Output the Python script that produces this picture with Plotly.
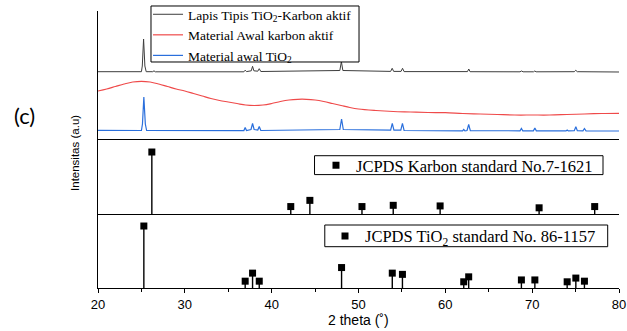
import plotly.graph_objects as go

# ---------------- data ----------------
# Top panel: measured XRD patterns (relative intensity, a.u.)
thin_film_x = [20.0, 25.0, 25.1, 25.25, 25.4, 25.55, 26.3, 26.45, 26.6,
               36.8, 36.95, 37.1, 37.65, 37.8, 37.95, 38.4, 38.57, 38.75,
               47.85, 48.03, 48.2, 53.7, 53.88, 54.05, 54.9, 55.07, 55.25,
               62.55, 62.7, 62.85, 68.6, 68.78, 68.95, 70.15, 70.3, 70.45,
               74.85, 75.02, 75.2, 75.85, 76.02, 76.2, 80.0]
thin_film_y = [0.3, 0.3, 6, 33, 6, 0.3, 0.3, 1.2, 0.2,
               0.2, 1.8, 0.4, 1.2, 5.7, 1.2, 0.8, 3.3, 0.5,
               1.5, 10.3, 1.5, 0.6, 3.7, 0.6, 0.6, 3.7, 0.4,
               0.4, 3.0, 0.3, 0.2, 1.0, 0.2, 0.2, 1.0, 0.2,
               0.3, 1.7, 0.3, 0.2, 0.8, 0.2, 0.0]

carbon_raw_x = [20, 21, 22, 23, 24, 25, 26, 27, 28, 29, 30, 31, 32, 33, 34,
                35, 36, 37, 38, 39, 40, 41, 42, 43, 44, 45, 46, 47, 48, 49,
                50, 52, 54, 56, 58, 60, 62, 64, 66, 68, 70, 72, 74, 76, 78, 80]
carbon_raw_y = [49, 51, 53.5, 56, 58, 58.7, 58, 56, 53.5, 51, 49, 46.5, 44,
                41.5, 39.5, 38, 36.5, 35, 34.5, 35, 36.5, 38.5, 40, 40.7, 40.7,
                40, 38.5, 36.5, 34.5, 32.5, 31, 29.5, 28.5, 28, 27.5, 27.3,
                26.5, 26, 25.5, 25, 25, 25, 25.5, 26, 26.5, 26.7]

tio2_raw_x = [20.0, 25.0, 25.12, 25.28, 25.45, 25.6, 36.8, 36.95, 37.1,
              37.62, 37.8, 37.98, 38.4, 38.57, 38.75, 47.85, 48.05, 48.25,
              53.7, 53.89, 54.08, 54.87, 55.06, 55.25, 61.98, 62.12, 62.26,
              62.5, 62.69, 62.88, 68.6, 68.76, 68.92, 70.14, 70.31, 70.48,
              73.9, 74.03, 74.16, 74.85, 75.03, 75.2, 75.85, 76.02, 76.2, 80.0]
tio2_raw_y = [0.6, 0.5, 7, 34, 7, 0.5, 0.4, 3.5, 0.5,
              1.5, 7.5, 1.5, 1.0, 4.5, 0.5, 1.5, 12, 1.5,
              0.8, 7.7, 0.8, 0.8, 7.7, 0.5, 0.2, 1.5, 0.2,
              0.5, 6.5, 0.4, 0.2, 2.5, 0.2, 0.2, 3.0, 0.2,
              0.1, 1.0, 0.1, 0.3, 4.3, 0.3, 0.2, 2.5, 0.2, 0.0]

# Middle panel: JCPDS carbon standard No. 7-1621
carbon_std_pos = [26.2, 42.2, 44.4, 50.4, 54.0, 59.4, 70.8, 77.2]
carbon_std_int = [100, 12, 22, 12, 14, 13, 10, 12]

# Bottom panel: JCPDS TiO2 standard No. 86-1157
tio2_std_pos = [25.28, 36.95, 37.80, 38.57, 48.05, 53.89, 55.06, 62.12,
                62.69, 68.76, 70.31, 74.03, 75.03, 76.02]
tio2_std_int = [100, 11, 24, 11, 33, 24, 22, 10, 18, 13, 13, 10, 16, 11]

x_range = [20, 80]
x_tick_step = 10

# vertical offsets used to stack the patterns in the top panel
thin_film_offset = 68
carbon_raw_offset = 0
tio2_raw_offset = 9

INK = "black"
SERIF = "Liberation Serif"
SANS = "Liberation Sans"


def stems(pos, inten):
    xs, ys = [], []
    for p, h in zip(pos, inten):
        xs += [p, p, None]
        ys += [0, h, None]
    return xs, ys


fig = go.Figure()

# ---- top panel ----
fig.add_trace(go.Scatter(
    x=thin_film_x, y=[v + thin_film_offset for v in thin_film_y],
    xaxis="x3", yaxis="y3", mode="lines",
    line=dict(color="#3d3d3d", width=1),
    name="Lapis Tipis TiO<sub>2</sub>-Karbon aktif", legend="legend"))
fig.add_trace(go.Scatter(
    x=carbon_raw_x, y=[v + carbon_raw_offset for v in carbon_raw_y],
    xaxis="x3", yaxis="y3", mode="lines", line_shape="spline",
    line=dict(color="#ef4a4a", width=1.2),
    name="Material Awal karbon aktif", legend="legend"))
fig.add_trace(go.Scatter(
    x=tio2_raw_x, y=[v + tio2_raw_offset for v in tio2_raw_y],
    xaxis="x3", yaxis="y3", mode="lines",
    line=dict(color="#2a6fdc", width=1.2),
    name="Material awal TiO<sub>2</sub>", legend="legend"))

# ---- middle panel ----
sx, sy = stems(carbon_std_pos, carbon_std_int)
fig.add_trace(go.Scatter(x=sx, y=sy, xaxis="x2", yaxis="y2", mode="lines",
                         line=dict(color=INK, width=1.4), showlegend=False,
                         hoverinfo="skip"))
fig.add_trace(go.Scatter(x=carbon_std_pos, y=carbon_std_int, xaxis="x2",
                         yaxis="y2", mode="markers",
                         marker=dict(symbol="square", size=7, color=INK),
                         name="JCPDS Karbon standard No.7-1621",
                         legend="legend2"))

# ---- bottom panel ----
sx, sy = stems(tio2_std_pos, tio2_std_int)
fig.add_trace(go.Scatter(x=sx, y=sy, xaxis="x", yaxis="y", mode="lines",
                         line=dict(color=INK, width=1.4), showlegend=False,
                         hoverinfo="skip"))
fig.add_trace(go.Scatter(x=tio2_std_pos, y=tio2_std_int, xaxis="x",
                         yaxis="y", mode="markers",
                         marker=dict(symbol="square", size=7, color=INK),
                         name="JCPDS TiO<sub>2</sub> standard No. 86-1157",
                         legend="legend3"))

hidden_y = dict(showline=True, linecolor=INK, linewidth=1.3, ticks="",
                showticklabels=False, showgrid=False, zeroline=False)

legend_common = dict(xanchor="left", yanchor="top", bgcolor="rgba(0,0,0,0)",
                     borderwidth=0, tracegroupgap=0)

box_line = dict(color=INK, width=1)

fig.update_layout(
    width=627, height=331,
    margin=dict(l=98, r=8, t=11, b=43, autoexpand=False),
    paper_bgcolor="white", plot_bgcolor="white",
    xaxis=dict(domain=[0, 1], anchor="y", range=x_range, tick0=x_range[0],
               dtick=x_tick_step, ticks="outside", ticklen=4, tickwidth=1,
               tickcolor=INK, showline=True, linecolor=INK, linewidth=1.3,
               showgrid=False, zeroline=False,
               minor=dict(dtick=x_tick_step / 2, ticks="outside", ticklen=3,
                          tickcolor=INK, showgrid=False),
               tickfont=dict(family=SANS, size=13, color=INK)),
    xaxis2=dict(matches="x", anchor="y2", showline=True, mirror=True,
                linecolor=INK, linewidth=1.3, showticklabels=False, ticks="",
                showgrid=False, zeroline=False),
    xaxis3=dict(matches="x", anchor="y3", visible=False),
    yaxis=dict(domain=[0, 0.26715], range=[0, 119.4], **hidden_y),
    yaxis2=dict(domain=[0.26715, 0.5343], range=[0, 119.4], **hidden_y),
    yaxis3=dict(domain=[0.5343, 1], range=[0, 129], **hidden_y),
    legend=dict(x=0.096, y=1.0433, font=dict(family=SERIF, size=13.5, color=INK),
                **legend_common),
    legend2=dict(x=0.4184, y=0.5054, font=dict(family=SERIF, size=16.5, color=INK),
                 **legend_common),
    legend3=dict(x=0.4357, y=0.2502, font=dict(family=SERIF, size=16.5, color=INK),
                 **legend_common),
    shapes=[
        dict(type="rect", xref="paper", yref="paper", x0=0.1017, x1=0.5010,
             y0=0.8159, y1=1.0181, line=box_line, fillcolor="white",
             layer="above"),
        dict(type="rect", xref="paper", yref="paper", x0=0.4156, x1=0.9693,
             y0=0.4094, y1=0.4776, line=box_line, fillcolor="white",
             layer="above"),
        dict(type="rect", xref="paper", yref="paper", x0=0.4353, x1=0.9783,
             y0=0.1491, y1=0.2274, line=box_line, fillcolor="white",
             layer="above"),
    ],
    annotations=[
        dict(text="Intensitas (a.u)", xref="paper", yref="paper",
             x=-0.0442, y=0.4874, textangle=-90, showarrow=False,
             xanchor="center", yanchor="middle",
             font=dict(family=SANS, size=11.5, color=INK)),
        dict(text="2 theta (˚)", xref="paper", yref="paper", x=0.5,
             y=-0.1155, showarrow=False, xanchor="center", yanchor="middle",
             font=dict(family=SANS, size=14, color=INK)),
        dict(text="(c)", xref="paper", yref="paper", x=-0.142, y=0.6245,
             showarrow=False, xanchor="center", yanchor="middle",
             font=dict(family="Lato", size=22, color=INK)),
    ],
)

fig.write_html("out.html",
               config={"displayModeBar": False},
               post_script="document.body.style.margin='0';"
                           "document.body.style.padding='0';")
